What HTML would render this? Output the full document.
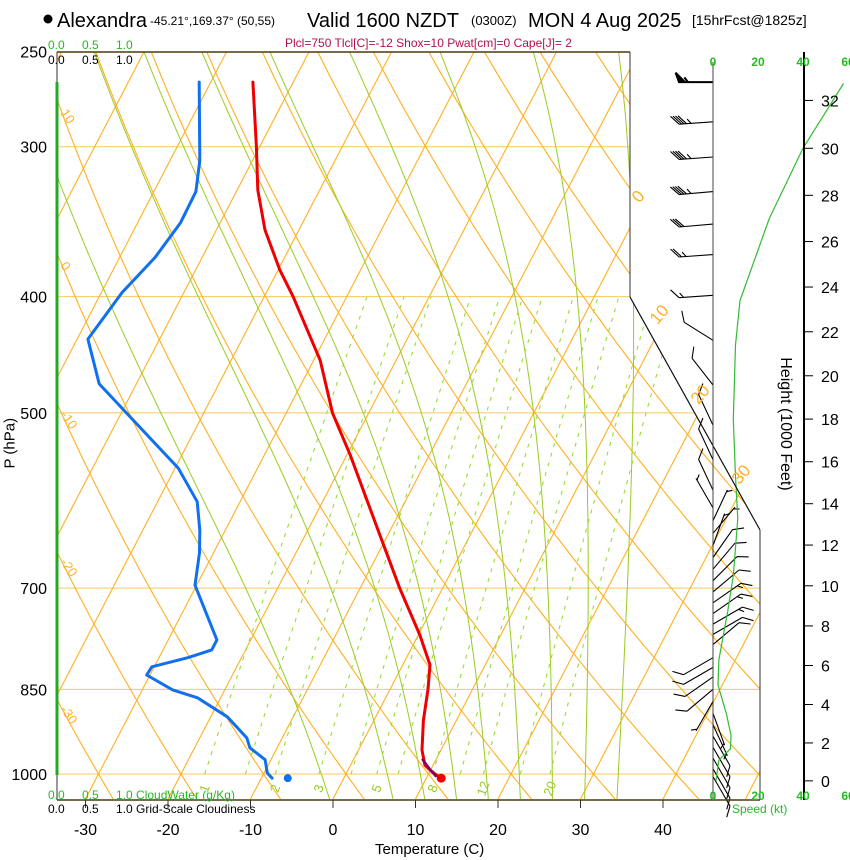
<!DOCTYPE html>
<html><head><meta charset="utf-8"><title>Skew-T Alexandra</title>
<style>
html,body{margin:0;padding:0;background:#fff;}
svg{display:block;font-family:"Liberation Sans",Arial,sans-serif;}
</style></head>
<body>
<svg id="chart" width="850" height="860" viewBox="0 0 850 860" xmlns="http://www.w3.org/2000/svg">
<defs>
<clipPath id="plotclip"><polygon points="57,52 630,52 630,297 760,530 760,799 57,799"/></clipPath>
</defs>
<g>
<circle cx="48" cy="19" r="4.5" fill="#000"/>
<text x="57" y="27" font-size="20">Alexandra</text>
<text x="150" y="25" font-size="12">-45.21°,169.37° (50,55)</text>
<text x="307" y="27" font-size="20">Valid 1600 NZDT</text>
<text x="471" y="25" font-size="13">(0300Z)</text>
<text x="528" y="27" font-size="20">MON 4 Aug 2025</text>
<text x="692" y="25" font-size="14">[15hrFcst@1825z]</text>
<text x="285" y="47" font-size="12" fill="#b0104f">Plcl=750 Tlcl[C]=-12 Shox=10 Pwat[cm]=0 Cape[J]= 2</text>
</g>
<g id="grid" clip-path="url(#plotclip)"></g>
<g id="marks"></g>
<g id="axes"></g>
</svg>
<script>
// ---- data ----
const pressureTicks = [250,300,400,500,700,850,1000];
const tempTicks = [-30,-20,-10,0,10,20,30,40];
const heightTicks = [0,2,4,6,8,10,12,14,16,18,20,22,24,26,28,30,32];
const isoLabels = [0,10,20,30];
const thetaLabels = [10,0,-10,-20,-30];
const mixRatios = [1,1.5,2,3,4,5,6,8,10,12,16,20];
const mixLabels = [1,2,3,5,8,12,20];
const moistThetaW = [-3,5,9,13,17,21,25,29,33];
const tempP = [265,300,326,352,380,400,452,500,542,626,700,766,811,850,902,955,983,996,1008];
const tempC = [-54.9,-50.4,-47.5,-44.1,-39.8,-36.5,-29.2,-24.4,-19.6,-11.5,-5.2,0.2,3.3,4.6,6.0,7.7,9.0,10.3,11.8];
const dewP = [265,308,327,347,371,397,434,473,507,556,593,626,654,696,773,788,800,814,827,851,864,896,933,951,973,998,1008];
const dewC = [-61.4,-56.4,-54.9,-54.8,-55.7,-57.5,-58.7,-54.5,-48.1,-39.6,-35.2,-33.1,-31.7,-30.2,-24.1,-24.1,-26.5,-30.3,-30.4,-26.3,-22.8,-18.0,-14.3,-13.3,-10.7,-9.6,-8.7];
const parcelP = [973,990,1004];
const parcelC = [8.4,9.8,11.0];
const sfcP = 1008;
const sfcT = 11.8;
const sfcTd = -6.8;
const windP = [265,286,306,327,348,369,399,435,474,512,547,580,600,615,630,645,660,675,690,705,720,735,750,765,780,800,815,830,850,870,890,910,930,950,970,990,1005];
const windDir = [270,266,266,265,265,266,266,302,322,335,335,335,330,25,40,20,35,40,45,50,55,55,60,60,50,240,240,235,230,210,160,155,150,150,150,150,150];
const windSpd = [55,45,45,45,30,25,15,10,10,10,10,10,8,8,8,6,10,10,12,14,15,15,15,14,12,10,12,12,10,8,6,8,10,10,12,12,12];
const speedHeight = [0,1.1,1.7,2.4,3.5,5,6.3,8.7,10.5,13.3,15.3,18,21.4,23.4,27,30,32.7];
const speedKt = [1.3,2.6,7.8,8,6,2.2,2.6,6.5,9,11,10,9,10,12,25,40,58];

// ---- scales ----
const NS = "http://www.w3.org/2000/svg";
function yP(p){ return 774 - 521*Math.log(1000/p); }
function xT(T,p){ return 333 + 8.25*T + 0.52*(799 - yP(p)); }
function pFromFt(kft){ const hm = kft*1000*0.3048; return 1013.25*Math.pow(1-2.25577e-5*hm,5.25588); }
function xSpd(v){ return 713 + 2.25*v; }
function mk(tag, attrs, parent){ const e=document.createElementNS(NS,tag); for(const k in attrs) e.setAttribute(k,attrs[k]); parent.appendChild(e); return e; }
function pts(arr){ return arr.map(a=>a[0].toFixed(1)+","+a[1].toFixed(1)).join(" "); }
const grid = document.getElementById('grid');
const marks = document.getElementById('marks');
const axes = document.getElementById('axes');

// isobars
for (const p of pressureTicks){
  const l = mk('line',{x1:57,x2:760,y1:yP(p),y2:yP(p),stroke:'#f8c860','stroke-width':1},grid);
  
  
}
// isotherms
for (let T=-130; T<=50; T+=10){
  const l = mk('line',{x1:xT(T,1050),y1:yP(1050),x2:xT(T,240),y2:yP(240),stroke:'#ffb020','stroke-width':1.1},grid);
  
  
}
// dry adiabats
for (let th=-40; th<=200; th+=10){
  const a=[];
  for (let p=1060; p>=240; p-=10){ const T=(th+273.15)*Math.pow(p/1000,0.2857)-273.15; a.push([xT(T,p),yP(p)]); }
  const l = mk('polyline',{points:pts(a),fill:'none',stroke:'#ffb020','stroke-width':1.1},grid);
  
  
}
// moist adiabats
function es(Tc){ return 6.112*Math.exp(17.67*Tc/(Tc+243.5)); }
function dTdlnp(T,p){ const Tc=T-273.15; const e=es(Tc); const rs=0.622*e/(p-e); const L=2.5e6,Rd=287,Cp=1005;
  return (Rd*T + L*rs)/(Cp + L*L*rs*0.622/(Rd*T*T)); }
for (const tw of moistThetaW){
  const up=[]; let T=tw+273.15, lp=Math.log(1000);
  while (lp>Math.log(240)){ const p=Math.exp(lp); up.push([xT(T-273.15,p),yP(p)]); T-=dTdlnp(T,p)*0.01; lp-=0.01; }
  const down=[]; T=tw+273.15; lp=Math.log(1000);
  while (lp<Math.log(1060)){ lp+=0.01; const p=Math.exp(lp); T+=dTdlnp(T,p)*0.01; down.push([xT(T-273.15,p),yP(p)]); }
  const all=down.reverse().concat(up);
  const l = mk('polyline',{points:pts(all),fill:'none',stroke:'#99cc22','stroke-width':1},grid);
  
  
}
// mixing ratio
function tFromW(w,p){ const e=w*p/(622+w); const g=Math.log(e/6.112); return 243.5*g/(17.67-g); }
for (const w of mixRatios){
  const a=[];
  for (let p=1000; p>=400; p-=10) a.push([xT(tFromW(w,p),p),yP(p)]);
  const l = mk('polyline',{points:pts(a),fill:'none',stroke:'#99dd33','stroke-width':1.1,'stroke-dasharray':'4,6'},grid);
  
  
}
for (const w of mixLabels){
  const x=xT(tFromW(w,1000),1000)+4, y=790;
  const t = mk('text',{x:x,y:y,'font-size':13,fill:'#99cc22','text-anchor':'middle',transform:'rotate(-70 '+x+' '+y+')'},grid);
  t.textContent=w;
  
  
}

// frame
const frame = [
 ['frame-top',57,52,630,52,'#4a3a10',1.5],['frame-bottom',57,800,760,800,'#4a3a10',1.5],
 ['frame-left',57,52,57,800,'#333',1],['frame-right-top',630,52,630,297,'#333',1],
 ['frame-diagonal',630,297,760,530,'#111',1.2],['frame-right',760,530,760,800,'#333',1],
 ['speed-zero-axis',713,62,713,800,'#444',1],['height-axis',804,52,804,800,'#000',2]];
for (const f of frame){
  const l = mk('line',{x1:f[1],y1:f[2],x2:f[3],y2:f[4],stroke:f[5],'stroke-width':f[6]},axes);
  
  
}
const cw = mk('line',{x1:57,y1:82,x2:57,y2:775,stroke:'#22aa22','stroke-width':3},axes);



// isotherm / theta labels
for (const T of isoLabels){
  const y = [200,318,398,478][isoLabels.indexOf(T)];
  const p = 1000*Math.exp((y-774)/521);
  const x = xT(T,p)-2;
  const t = mk('text',{x:x,y:y,'font-size':17,fill:'#ffb020','text-anchor':'middle',transform:'rotate(-50 '+x+' '+y+')'},axes);
  t.textContent=T;
  
  
}
for (const th of thetaLabels){
  let y=52;
  for (let p=250;p<=1050;p+=1){ const T=(th+273.15)*Math.pow(p/1000,0.2857)-273.15; if (xT(T,p)>=60){ y=yP(p); break; } }
  const t = mk('text',{x:60,y:y+4,'font-size':13,fill:'#ffb020',transform:'rotate(55 60 '+(y+4)+')'},axes);
  t.textContent=th;
  
  
}

// pressure axis
for (const p of pressureTicks){
  const t = mk('text',{x:47,y:yP(p)+6,'font-size':16,'text-anchor':'end',fill:'#000'},axes);
  t.textContent=p;
  
  
}
// temperature axis
for (const T of tempTicks){
  const x=333+8.25*T;
  const tk = mk('line',{x1:x,y1:800,x2:x,y2:808,stroke:'#333','stroke-width':1},axes);
  
  
  const t = mk('text',{x:x,y:835,'font-size':16,'text-anchor':'middle',fill:'#000'},axes);
  t.textContent=T;
  
  
}
// height axis
for (const h of heightTicks){
  const y=yP(pFromFt(h));
  const tk = mk('line',{x1:804,y1:y,x2:813,y2:y,stroke:'#000','stroke-width':1},axes);
  
  
  const t = mk('text',{x:821,y:y+6,'font-size':16,fill:'#000'},axes);
  t.textContent=h;
  
  
}
// speed axis labels
for (const v of [0,20,40,60]){
  for (const yy of [66,800]){
    const t = mk('text',{x:xSpd(v),y:yy,'font-size':12,'font-weight':'bold',fill:'#22bb22','text-anchor':'middle'},axes);
    t.textContent=v;
    
    
  }
}

// temperature & dewpoint
function line(P,C,color,w,name){
  const a=P.map((p,i)=>[xT(C[i],p),yP(p)]);
  const l = mk('polyline',{points:pts(a),fill:'none',stroke:color,'stroke-width':w,'stroke-linejoin':'round','stroke-linecap':'round'},marks);
  
  
}
line(tempP,tempC,'#ee0000',3,'temperature-line');
line(dewP,dewC,'#1070ee',3,'dewpoint-line');
line(parcelP,parcelC,'#800060',2.5,'parcel-line');
const sd1 = mk('circle',{cx:xT(sfcT,sfcP),cy:yP(sfcP),r:4.5,fill:'#ee0000'},marks);


const sd2 = mk('circle',{cx:xT(sfcTd,sfcP),cy:yP(sfcP),r:4,fill:'#1070ee'},marks);



// wind barbs
for (let i=0;i<windP.length;i++){
  const x0=713, y0=yP(windP[i]);
  const r=windDir[i]*Math.PI/180, L=34;
  const ux=Math.sin(r), uy=-Math.cos(r);
  const tx=x0+ux*L, ty=y0+uy*L;
  const a=70*Math.PI/180;
  const fx=Math.cos(a)*ux - Math.sin(a)*uy, fy=Math.sin(a)*ux + Math.cos(a)*uy;
  let d='M'+x0+','+y0.toFixed(1)+'L'+tx.toFixed(1)+','+ty.toFixed(1);
  let s=windSpd[i], pos=0, fill='';
  while (s>=50){ const bx=tx-ux*pos, by=ty-uy*pos; fill+='M'+bx.toFixed(1)+','+by.toFixed(1)+'l'+(fx*10).toFixed(1)+','+(fy*10).toFixed(1)+'L'+(bx-ux*6).toFixed(1)+','+(by-uy*6).toFixed(1)+'Z'; pos+=7; s-=50; }
  while (s>=10){ const bx=tx-ux*pos, by=ty-uy*pos; d+='M'+bx.toFixed(1)+','+by.toFixed(1)+'l'+(fx*9+ux*5).toFixed(1)+','+(fy*9+uy*5).toFixed(1); pos+=2.5; s-=10; }
  if (s>=5){ const bx=tx-ux*(pos+2), by=ty-uy*(pos+2); d+='M'+bx.toFixed(1)+','+by.toFixed(1)+'l'+(fx*5+ux*2).toFixed(1)+','+(fy*5+uy*2).toFixed(1); }
  const g = mk('path',{d:d+fill,stroke:'#000','stroke-width':i===0?2:1.1,fill:'#000'},marks);
  
  
}
// speed profile
{
  const a=speedHeight.map((h,i)=>[xSpd(speedKt[i]),yP(pFromFt(h))]);
  const l = mk('polyline',{points:pts(a),fill:'none',stroke:'#33bb33','stroke-width':1.2},marks);
  
  
}
</script>
<div style="position:absolute;left:0;top:0;width:850px;height:860px;pointer-events:none;font-family:'Liberation Sans',Arial,sans-serif;">
<div style="position:absolute;left:48px;top:38px;font-size:12px;color:#22bb22;word-spacing:14px;">0.0 0.5 1.0</div>
<div style="position:absolute;left:48px;top:53px;font-size:12px;color:#000;word-spacing:14px;">0.0 0.5 1.0</div>
<div style="position:absolute;left:48px;top:788px;font-size:12px;color:#22bb22;white-space:nowrap;"><span style="word-spacing:14px">0.0 0.5 1.0</span> CloudWater (g/Kg)</div>
<div style="position:absolute;left:48px;top:802px;font-size:12px;color:#000;white-space:nowrap;"><span style="word-spacing:14px">0.0 0.5 1.0</span> Grid-Scale Cloudiness</div>
<div style="position:absolute;left:375px;top:841px;font-size:15px;color:#000;">Temperature (C)</div>
<div style="position:absolute;left:732px;top:802px;font-size:12px;color:#22bb22;">Speed (kt)</div>
<div style="position:absolute;left:-20px;top:430px;width:60px;font-size:15px;transform:rotate(-90deg);white-space:nowrap;">P (hPa)</div>
<div style="position:absolute;left:715px;top:415px;width:140px;font-size:16px;transform:rotate(90deg);white-space:nowrap;text-align:center;">Height (1000 Feet)</div>
</div>
</body></html>
